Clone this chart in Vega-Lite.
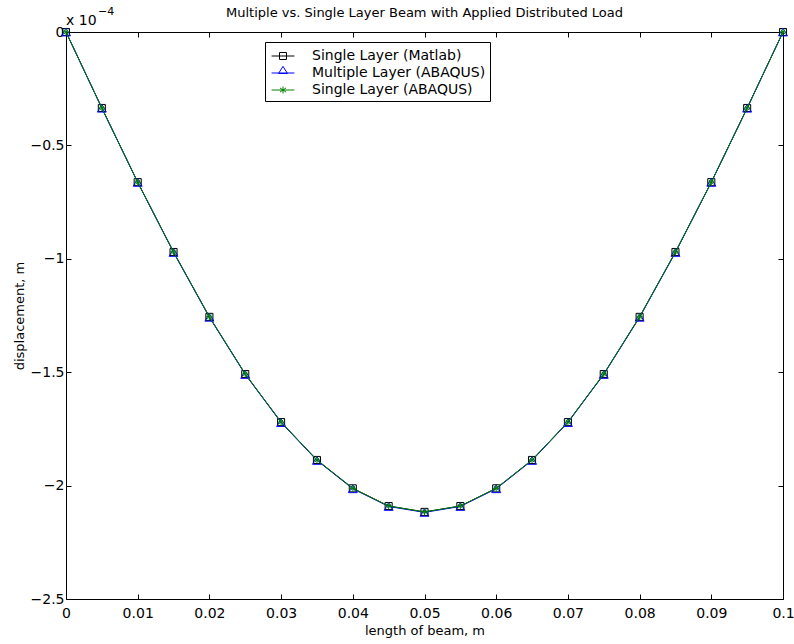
{
  "$schema": "https://vega.github.io/schema/vega-lite/v6.json",
  "autosize": {"type": "none"},
  "width": 717,
  "height": 567,
  "padding": {"left": 66, "top": 32, "right": 11, "bottom": 45},
  "background": "white",
  "config": {
    "font": "DejaVu Sans",
    "view": {"stroke": null},
    "axis": {"grid": false, "domainColor": "black", "tickColor": "black", "labelColor": "black", "titleColor": "black", "labelFont": "DejaVu Sans", "titleFont": "DejaVu Sans", "labelFontSize": 14, "titleFontSize": 13, "titleFontWeight": "normal", "tickSize": -5, "domainWidth": 1, "tickWidth": 1},
    "title": {"font": "DejaVu Sans", "fontSize": 13, "fontWeight": "normal", "color": "black", "offset": -14},
    "legend": {"orient": "none", "legendX": 199, "legendY": 10, "strokeColor": "black", "fillColor": "white", "padding": 4, "labelFontSize": 14, "labelFont": "DejaVu Sans", "labelColor": "black", "labelLimit": 400, "symbolSize": 361, "symbolStrokeWidth": 1, "symbolFillColor": "transparent", "symbolOffset": 4, "rowPadding": 0, "labelOffset": 19}
  },
  "title": "Multiple vs. Single Layer Beam with Applied Distributed Load",
  "datasets": {
    "beam": [
      {"x": 0, "y": 0, "series": "Single Layer (Matlab)"},
      {"x": 0.005, "y": -0.335, "series": "Single Layer (Matlab)"},
      {"x": 0.01, "y": -0.662, "series": "Single Layer (Matlab)"},
      {"x": 0.015, "y": -0.970, "series": "Single Layer (Matlab)"},
      {"x": 0.02, "y": -1.256, "series": "Single Layer (Matlab)"},
      {"x": 0.025, "y": -1.508, "series": "Single Layer (Matlab)"},
      {"x": 0.03, "y": -1.720, "series": "Single Layer (Matlab)"},
      {"x": 0.035, "y": -1.887, "series": "Single Layer (Matlab)"},
      {"x": 0.04, "y": -2.012, "series": "Single Layer (Matlab)"},
      {"x": 0.045, "y": -2.090, "series": "Single Layer (Matlab)"},
      {"x": 0.05, "y": -2.116, "series": "Single Layer (Matlab)"},
      {"x": 0.055, "y": -2.090, "series": "Single Layer (Matlab)"},
      {"x": 0.06, "y": -2.012, "series": "Single Layer (Matlab)"},
      {"x": 0.065, "y": -1.887, "series": "Single Layer (Matlab)"},
      {"x": 0.07, "y": -1.720, "series": "Single Layer (Matlab)"},
      {"x": 0.075, "y": -1.508, "series": "Single Layer (Matlab)"},
      {"x": 0.08, "y": -1.256, "series": "Single Layer (Matlab)"},
      {"x": 0.085, "y": -0.970, "series": "Single Layer (Matlab)"},
      {"x": 0.09, "y": -0.662, "series": "Single Layer (Matlab)"},
      {"x": 0.095, "y": -0.335, "series": "Single Layer (Matlab)"},
      {"x": 0.1, "y": 0, "series": "Single Layer (Matlab)"},
      {"x": 0, "y": 0, "series": "Multiple Layer (ABAQUS)"},
      {"x": 0.005, "y": -0.336, "series": "Multiple Layer (ABAQUS)"},
      {"x": 0.01, "y": -0.663, "series": "Multiple Layer (ABAQUS)"},
      {"x": 0.015, "y": -0.972, "series": "Multiple Layer (ABAQUS)"},
      {"x": 0.02, "y": -1.258, "series": "Multiple Layer (ABAQUS)"},
      {"x": 0.025, "y": -1.510, "series": "Multiple Layer (ABAQUS)"},
      {"x": 0.03, "y": -1.722, "series": "Multiple Layer (ABAQUS)"},
      {"x": 0.035, "y": -1.889, "series": "Multiple Layer (ABAQUS)"},
      {"x": 0.04, "y": -2.014, "series": "Multiple Layer (ABAQUS)"},
      {"x": 0.045, "y": -2.092, "series": "Multiple Layer (ABAQUS)"},
      {"x": 0.05, "y": -2.118, "series": "Multiple Layer (ABAQUS)"},
      {"x": 0.055, "y": -2.092, "series": "Multiple Layer (ABAQUS)"},
      {"x": 0.06, "y": -2.014, "series": "Multiple Layer (ABAQUS)"},
      {"x": 0.065, "y": -1.889, "series": "Multiple Layer (ABAQUS)"},
      {"x": 0.07, "y": -1.722, "series": "Multiple Layer (ABAQUS)"},
      {"x": 0.075, "y": -1.510, "series": "Multiple Layer (ABAQUS)"},
      {"x": 0.08, "y": -1.258, "series": "Multiple Layer (ABAQUS)"},
      {"x": 0.085, "y": -0.972, "series": "Multiple Layer (ABAQUS)"},
      {"x": 0.09, "y": -0.663, "series": "Multiple Layer (ABAQUS)"},
      {"x": 0.095, "y": -0.336, "series": "Multiple Layer (ABAQUS)"},
      {"x": 0.1, "y": 0, "series": "Multiple Layer (ABAQUS)"},
      {"x": 0, "y": 0, "series": "Single Layer (ABAQUS)"},
      {"x": 0.005, "y": -0.335, "series": "Single Layer (ABAQUS)"},
      {"x": 0.01, "y": -0.662, "series": "Single Layer (ABAQUS)"},
      {"x": 0.015, "y": -0.970, "series": "Single Layer (ABAQUS)"},
      {"x": 0.02, "y": -1.256, "series": "Single Layer (ABAQUS)"},
      {"x": 0.025, "y": -1.508, "series": "Single Layer (ABAQUS)"},
      {"x": 0.03, "y": -1.720, "series": "Single Layer (ABAQUS)"},
      {"x": 0.035, "y": -1.887, "series": "Single Layer (ABAQUS)"},
      {"x": 0.04, "y": -2.012, "series": "Single Layer (ABAQUS)"},
      {"x": 0.045, "y": -2.090, "series": "Single Layer (ABAQUS)"},
      {"x": 0.05, "y": -2.116, "series": "Single Layer (ABAQUS)"},
      {"x": 0.055, "y": -2.090, "series": "Single Layer (ABAQUS)"},
      {"x": 0.06, "y": -2.012, "series": "Single Layer (ABAQUS)"},
      {"x": 0.065, "y": -1.887, "series": "Single Layer (ABAQUS)"},
      {"x": 0.07, "y": -1.720, "series": "Single Layer (ABAQUS)"},
      {"x": 0.075, "y": -1.508, "series": "Single Layer (ABAQUS)"},
      {"x": 0.08, "y": -1.256, "series": "Single Layer (ABAQUS)"},
      {"x": 0.085, "y": -0.970, "series": "Single Layer (ABAQUS)"},
      {"x": 0.09, "y": -0.662, "series": "Single Layer (ABAQUS)"},
      {"x": 0.095, "y": -0.335, "series": "Single Layer (ABAQUS)"},
      {"x": 0.1, "y": 0, "series": "Single Layer (ABAQUS)"}
    ]
  },
  "data": {"name": "beam"},
  "layer": [
    {
      "encoding": {
        "x": {"field": "x", "type": "quantitative", "scale": {"domain": [0, 0.1], "nice": false, "zero": false},
          "axis": {"orient": "bottom", "title": "length of beam, m", "values": [0, 0.01, 0.02, 0.03, 0.04, 0.05, 0.06, 0.07, 0.08, 0.09, 0.1], "format": "~g", "labelPadding": 12, "titlePadding": 4, "labelFlush": false}},
        "y": {"field": "y", "type": "quantitative", "scale": {"domain": [-2.5, 0], "nice": false, "zero": false},
          "axis": {"orient": "left", "title": "displacement, m", "values": [0, -0.5, -1, -1.5, -2, -2.5], "format": "~g", "labelPadding": 7, "titlePadding": 4, "labelFlush": false}}
      },
      "layer": [
        {
          "transform": [{"filter": "datum.series === 'Single Layer (Matlab)'"}],
          "mark": {"type": "line", "strokeWidth": 1, "point": {"shape": "square", "filled": false, "size": 50, "strokeWidth": 1}},
          "encoding": {"color": {"field": "series", "type": "nominal", "legend": {"title": null},
            "scale": {"domain": ["Single Layer (Matlab)", "Multiple Layer (ABAQUS)", "Single Layer (ABAQUS)"], "range": ["#000000", "#0000ff", "#008000"]}}}
        },
        {
          "transform": [{"filter": "datum.series === 'Multiple Layer (ABAQUS)'"}],
          "mark": {"type": "line", "strokeWidth": 1, "point": {"shape": "triangle-up", "filled": false, "size": 80, "strokeWidth": 1}},
          "encoding": {"color": {"field": "series", "type": "nominal", "legend": {"title": null}}}
        },
        {
          "transform": [{"filter": "datum.series === 'Single Layer (ABAQUS)'"}],
          "mark": {"type": "line", "strokeWidth": 1, "point": {"shape": "M0,-1V1M-1,0H1M-0.7,-0.7L0.7,0.7M-0.7,0.7L0.7,-0.7", "filled": false, "size": 45, "strokeWidth": 1}},
          "encoding": {"color": {"field": "series", "type": "nominal", "legend": {"title": null}}}
        },
        {
          "transform": [{"filter": "datum.x < 0"}],
          "mark": {"type": "point", "filled": false},
          "encoding": {
            "color": {"field": "series", "type": "nominal", "legend": {"title": null}},
            "shape": {"field": "series", "type": "nominal",
              "scale": {"domain": ["Single Layer (Matlab)", "Multiple Layer (ABAQUS)", "Single Layer (ABAQUS)"],
                "range": ["M-1.2,0H1.2M-0.37,-0.37H0.37V0.37H-0.37Z", "M-1.2,0H1.2M0,-0.7L0.47,0.05H-0.47Z", "M-1.2,0H1.2M0,-0.37V0.37M-0.32,-0.22L0.32,0.22M-0.32,0.22L0.32,-0.22"]},
              "legend": {"title": null}}
          }
        },
        {
          "transform": [{"filter": "datum.x === 0 && datum.series === 'Single Layer (Matlab)'"}],
          "mark": {"type": "text", "text": "x 10", "align": "left", "baseline": "alphabetic", "fontSize": 14, "font": "DejaVu Sans", "color": "black", "dy": -7}
        },
        {
          "transform": [{"filter": "datum.x === 0 && datum.series === 'Single Layer (Matlab)'"}],
          "mark": {"type": "text", "text": "−4", "align": "left", "baseline": "alphabetic", "fontSize": 11, "font": "DejaVu Sans", "color": "black", "dx": 32, "dy": -17}
        }
      ]
    },
    {
      "mark": {"type": "point", "opacity": 0},
      "encoding": {
        "x": {"field": "x", "type": "quantitative", "axis": {"orient": "top", "labels": false, "title": null, "values": [0, 0.01, 0.02, 0.03, 0.04, 0.05, 0.06, 0.07, 0.08, 0.09, 0.1]}},
        "y": {"field": "y", "type": "quantitative", "axis": {"orient": "right", "labels": false, "title": null, "values": [0, -0.5, -1, -1.5, -2, -2.5]}}
      }
    }
  ],
  "resolve": {"axis": {"x": "independent", "y": "independent"}}
}
